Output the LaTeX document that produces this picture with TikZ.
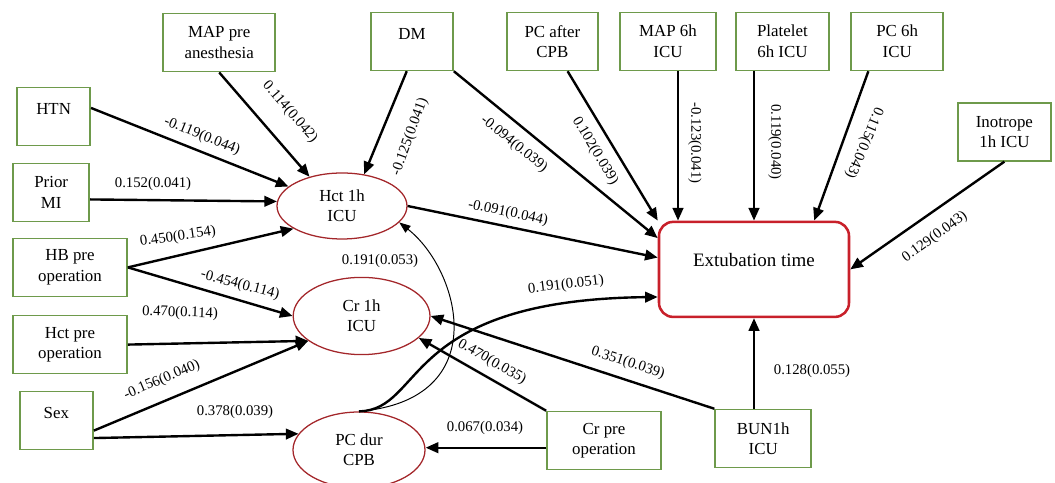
\documentclass[tikz,border=0pt]{standalone}
\usepackage{fontspec}
\setmainfont{Liberation Serif}
\definecolor{vargreen}{HTML}{6E9A4B}
\definecolor{latred}{HTML}{A3262A}
\definecolor{outred}{HTML}{C8202A}
\usetikzlibrary{shapes.geometric, arrows.meta}

\begin{document}
\begin{tikzpicture}[
        obs/.style={draw=vargreen, line width=1.2pt, minimum width=2.3cm, minimum height=1.45cm,
                    inner sep=2pt, font=\fontsize{12}{14.5}\selectfont, align=center},
        oneline/.style={text depth=11pt},
        lat/.style={ellipse, draw=latred, line width=0.9pt, inner sep=0pt,
                    font=\fontsize{12}{14.5}\selectfont, align=center},
        outc/.style={draw=outred, line width=1.8pt, rounded corners=10pt,
                     minimum width=4.75cm, minimum height=2.375cm,
                     font=\fontsize{13.5}{16}\selectfont, text depth=13pt},
        arr/.style={-{Triangle[length=9pt,width=7.5pt]}, line width=1.7pt},
        thinarr/.style={-{Triangle[length=8pt,width=6pt]}, line width=0.7pt},
        coef/.style={font=\fontsize{10.5}{12}\selectfont, inner sep=1pt}
      ]
        \useasboundingbox (0,0) rectangle (26.375,12.075);

        % observed variables
        \node[obs, oneline, minimum width=1.83cm] (htn) at (1.34,9.16) {HTN};
        \node[obs, minimum width=2.8cm] (mappre) at (5.48,11.01) {MAP pre\\anesthesia};
        \node[obs, oneline, minimum width=2.05cm] (dm) at (10.3,11.04) {DM};
        \node[obs, minimum width=2.28cm] (pca) at (13.81,11.04) {PC after\\CPB};
        \node[obs, minimum width=2.4cm] (map6) at (16.7,11.04) {MAP 6h\\ICU};
        \node[obs, minimum width=2.33cm] (plt) at (19.56,11.04) {Platelet\\6h ICU};
        \node[obs, minimum width=2.3cm] (pc6) at (22.43,11.04) {PC 6h\\ICU};
        \node[obs, minimum width=2.33cm] (ino) at (25.11,8.78) {Inotrope\\1h ICU};
        \node[obs, minimum width=1.9cm] (pmi) at (1.28,7.26) {Prior\\MI};
        \node[obs, minimum width=2.85cm] (hbp) at (1.75,5.39) {HB pre\\operation};
        \node[obs, minimum width=2.85cm] (hctp) at (1.75,3.46) {Hct pre\\operation};
        \node[obs, oneline, minimum width=1.83cm] (sex) at (1.41,1.56) {Sex};
        \node[obs, minimum width=2.85cm] (crp) at (15.1,1.06) {Cr pre\\operation};
        \node[obs, minimum width=2.4cm] (bun) at (19.08,1.11) {BUN1h\\ICU};

        % outcome and mediators
        \node[outc] (ext) at (18.85,5.34) {Extubation time};
        \node[lat, minimum width=3.25cm, minimum height=1.65cm] (hct1) at (8.55,6.925) {Hct 1h\\ICU};
        \node[lat, minimum width=3.42cm, minimum height=1.93cm] (cr1) at (9.04,4.175) {Cr 1h\\ICU};
        \node[lat, minimum width=3.3cm, minimum height=1.9cm] (pcd) at (8.975,0.825) {PC dur\\CPB};

        % paths to Hct 1h ICU
        \draw[arr] (htn.13) -- (hct1.160);
        \draw[arr] (mappre.south) -- (hct1.138);
        \draw[arr] (dm.-100) -- (hct1.55);
        \draw[arr] (pmi.-10) -- (hct1.176);
        \draw[arr] (hbp.east) -- (hct1.205);
        \draw[thinarr] (pcd.north) .. controls (12.375,2.075) and (11.5,5.325) .. (hct1.-16);

        % paths to Cr 1h ICU
        \draw[arr] (hbp.east) -- (cr1.west);
        \draw[arr] (hctp.east) -- (cr1.205);
        \draw[arr] (sex.-15) -- (cr1.205);
        \draw[arr] (crp.north west) -- (cr1.-21);
        \draw[arr] (bun.north west) -- (cr1.east);

        % paths to PC dur CPB
        \draw[arr] (sex.-25) -- (pcd.165);
        \draw[arr] (crp.187) -- (crp.187 -| pcd.east);

        % paths to Extubation time
        \draw[arr] (hct1.east) -- (ext.173);
        \draw[arr] (dm.south east) -- (ext.162);
        \draw[arr] (pca.-63) -- (ext.north west);
        \draw[arr] ([xshift=0.25cm]map6.south) -- ([xshift=0.25cm]map6.south |- ext.north);
        \draw[arr] ([xshift=-0.71cm]plt.south) -- ([xshift=-0.71cm]plt.south |- ext.north);
        \draw[arr] (pc6.-134) -- (ext.39);
        \draw[arr] (ino.south) -- (ext.east);
        \draw[arr] (pcd.north) .. controls (10.625,1.825) and (10,4.575) .. (ext.196);
        \draw[arr] (bun.north -| ext.south) -- (ext.south);

        % coefficients
        \node[coef, rotate=-22] (c1) at (5.05,8.675) {-0.119(0.044)};
        \node[coef, rotate=-49] (c2) at (7.25,9.275) {0.114(0.042)};
        \node[coef, rotate=70] (c3) at (10.25,8.65) {-0.125(0.041)};
        \node[coef] (c4) at (3.825,7.475) {0.152(0.041)};
        \node[coef, rotate=8] (c5) at (4.45,6.15) {0.450(0.154)};
        \node[coef, rotate=-15] (c6) at (6.0,4.95) {-0.454(0.114)};
        \node[coef, rotate=-2] (c7) at (4.5,4.25) {0.470(0.114)};
        \node[coef, rotate=23] (c8) at (4.05,2.575) {-0.156(0.040)};
        \node[coef] (c9) at (5.875,1.775) {0.378(0.039)};
        \node[coef, rotate=-12] (c10) at (12.7,6.75) {-0.091(0.044)};
        \node[coef, rotate=-39] (c11) at (12.85,8.475) {-0.094(0.039)};
        \node[coef, rotate=-59] (c12) at (14.875,8.3) {0.102(0.039)};
        \node[coef, rotate=-90] (c13) at (17.375,8.5) {-0.123(0.041)};
        \node[coef, rotate=-90] (c14) at (19.375,8.525) {0.119(0.040)};
        \node[coef, rotate=-113] (c15) at (21.6,8.5) {0.115(0.043)};
        \node[coef, rotate=36] (c16) at (23.375,6.15) {0.129(0.043)};
        \node[coef, rotate=7] (c17) at (14.15,4.95) {0.191(0.051)};
        \node[coef] (c18) at (9.5,5.55) {0.191(0.053)};
        \node[coef, rotate=-30] (c19) at (12.3,3.025) {0.470(0.035)};
        \node[coef, rotate=-18] (c20) at (15.7,3.0) {0.351(0.039)};
        \node[coef] (c21) at (12.125,1.375) {0.067(0.034)};
        \node[coef] (c22) at (20.3,2.8) {0.128(0.055)};
      \end{tikzpicture}
\end{document}
